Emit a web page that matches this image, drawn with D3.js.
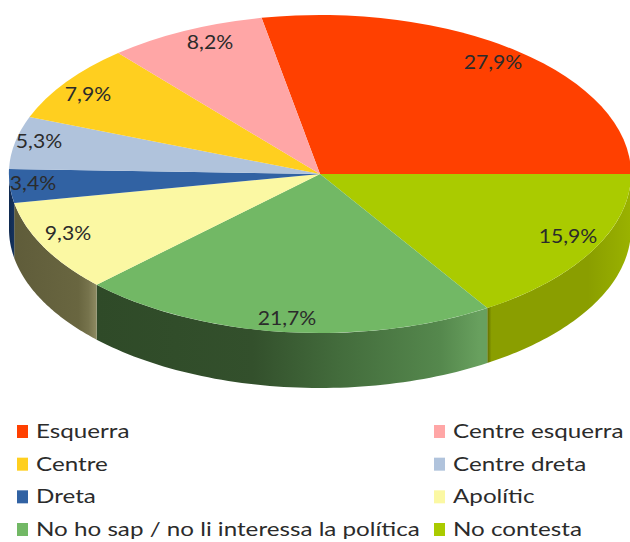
<!DOCTYPE html>
<html><head><meta charset="utf-8">
<script src="https://cdn.jsdelivr.net/npm/d3@7"></script>
<style>html,body{margin:0;background:#fff}svg{display:block}text{font-family:Lato,sans-serif;fill:#2b2b2b}</style>
</head><body><svg id="c" width="630" height="542"></svg>
<script>
const categories=["Esquerra","No contesta","No ho sap / no li interessa la política","Apolític","Dreta","Centre dreta","Centre","Centre esquerra"];
const values=[27.9,15.9,21.7,9.3,3.4,5.3,7.9,8.2];
const labels=["27,9%","15,9%","21,7%","9,3%","3,4%","5,3%","7,9%","8,2%"];
const colors=["#ff4000","#aacb00","#72b865","#fbf8a3","#3162a3","#b0c3dc","#ffcf1f","#ffa6a6"];
const wallStops=[
 null,
 [["#5f6d00",0],["#8a9e00",0.03],["#8a9e00",0.7],["#9ab200",1]],
 [["#2f4a28",0],["#33502c",0.4],["#436c3c",0.62],["#55884d",0.88],["#68a05e",0.98],["#68a05e",1]],
 [["#5f5c3a",0],["#696640",0.78],["#76734c",0.9],["#8e8b62",1]],
 [["#102a50",0],["#15335f",1]]
];
const legendOrder=["Esquerra","Centre esquerra","Centre","Centre dreta","Dreta","Apolític","No ho sap / no li interessa la política","No contesta"];
const labelPos=[[493,64],[568,238],[287,320],[68,235],[33,185],[39,143],[88,96],[210,44]];

const cx=320,cy=174,rx=311,ry=159,depth=55;
const svg=d3.select("#c");
const defs=svg.append("defs");
const total=d3.sum(values);
const start=Math.PI/2-values[0]/total*2*Math.PI;
const pie=d3.pie().sort(null).startAngle(start).endAngle(start+2*Math.PI);
const arcs=pie(values);
const px=d3.scaleLinear().domain([-1,1]).range([cx-rx,cx+rx]);
const py=d3.scaleLinear().domain([-1,1]).range([cy-ry,cy+ry]);
const pt=(a,d=0)=>[px(Math.sin(a)),py(-Math.cos(a))+d];

// side walls
arcs.forEach((s,i)=>{
  const a0=Math.max(s.startAngle,Math.PI/2),a1=Math.min(s.endAngle,3*Math.PI/2);
  if(a1<=a0||!wallStops[i]) return;
  const pts=d3.range(0,61).map(k=>a0+(a1-a0)*k/60);
  const top=pts.map(a=>pt(a)),bot=pts.map(a=>pt(a,depth)).reverse();
  const xs=top.map(p=>p[0]);
  const g=defs.append("linearGradient").attr("id","w"+i).attr("gradientUnits","userSpaceOnUse")
    .attr("x1",d3.min(xs)).attr("x2",d3.max(xs)).attr("y1",0).attr("y2",0);
  wallStops[i].forEach(d=>g.append("stop").attr("offset",d[1]).attr("stop-color",d[0]));
  svg.append("path").attr("d",d3.line()(top.concat(bot))+"Z").attr("fill",`url(#w${i})`);
});

// top faces
const arc=d3.arc().innerRadius(0).outerRadius(1);
const gTop=svg.append("g").attr("transform",`translate(${cx},${cy}) scale(${rx},${ry})`);
gTop.selectAll("path").data(arcs).join("path").attr("d",arc).attr("fill",(d,i)=>colors[i]);

// labels
svg.selectAll("text.l").data(labels).join("text").attr("class","l")
 .attr("transform",(d,i)=>`translate(${labelPos[i][0]},${labelPos[i][1]}) scale(1.06,1)`)
 .attr("text-anchor","middle").attr("dominant-baseline","middle").attr("font-size",20).text(d=>d);

// legend
const lx=d3.scaleOrdinal().domain([0,1]).range([17,434]);
const ly=d3.scaleLinear().domain([0,3]).range([432,530]);
const lg=svg.selectAll("g.lg").data(legendOrder).join("g").attr("class","lg")
 .attr("transform",(d,i)=>`translate(${lx(i%2)},${ly(Math.floor(i/2))})`);
lg.append("rect").attr("x",0).attr("y",-7).attr("width",11).attr("height",13)
 .attr("fill",d=>colors[categories.indexOf(d)]);
lg.append("text").attr("transform","translate(19,1) scale(1.21,1)").attr("dominant-baseline","middle").attr("font-size",20).text(d=>d);
</script></body></html>
